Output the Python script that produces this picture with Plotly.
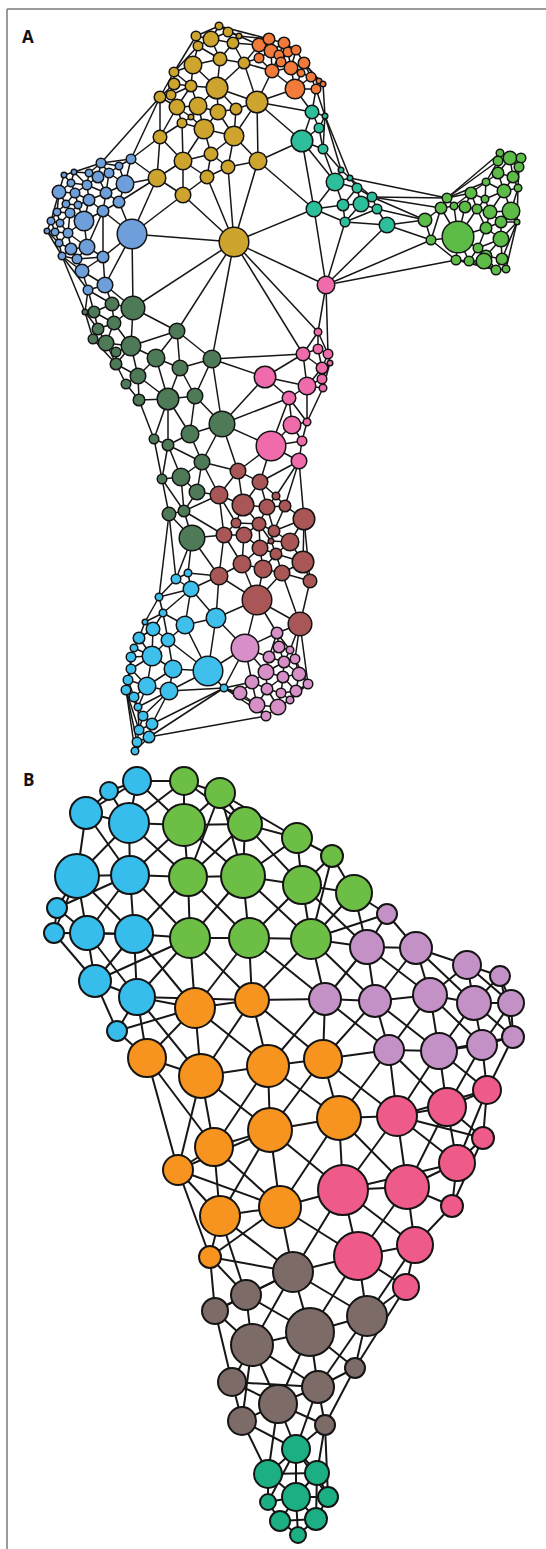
import plotly.graph_objects as go

# ---------------------------------------------------------------
# Node tables: (x, y, radius) in layout units, one list per module
# ---------------------------------------------------------------

# Panel A modules
A_GOLD = [(219, 26, 3), (228, 32, 4), (196, 36, 4), (211, 39, 7), (233, 43, 5), (239, 36, 2),
          (198, 46, 4), (220, 59, 6), (193, 65, 8), (244, 63, 5), (174, 72, 4), (217, 88, 10),
          (191, 86, 5), (174, 84, 5), (160, 97, 5), (171, 95, 4), (177, 107, 7), (198, 106, 8),
          (218, 112, 7), (236, 109, 5), (257, 102, 10), (191, 117, 2), (182, 123, 4), (204, 129, 9),
          (234, 136, 9), (160, 137, 6), (211, 154, 6), (183, 161, 8), (228, 167, 6), (258, 161, 8),
          (207, 177, 6), (157, 178, 8), (183, 195, 7), (234, 242, 14)]
A_ORANGE = [(259, 45, 6), (269, 39, 5), (271, 51, 6), (259, 58, 4), (272, 71, 6), (284, 43, 5),
            (279, 55, 4), (288, 52, 4), (296, 50, 4), (281, 62, 4), (291, 68, 6), (304, 63, 5),
            (301, 73, 3), (311, 77, 4), (319, 81, 2), (323, 84, 2), (316, 89, 4), (295, 89, 9)]
A_TEAL = [(312, 112, 6), (325, 116, 2), (319, 128, 4), (302, 141, 10), (323, 149, 4), (341, 170, 2),
          (335, 182, 8), (350, 178, 2), (357, 188, 4), (372, 197, 4), (343, 205, 5), (361, 204, 7),
          (377, 209, 4), (314, 209, 7), (345, 222, 4), (387, 225, 7)]
A_GREEN = [(500, 153, 3), (510, 158, 6), (521, 158, 4), (519, 167, 4), (498, 161, 4), (513, 177, 5),
           (498, 173, 5), (486, 182, 3), (518, 188, 3), (504, 191, 6), (471, 193, 5), (447, 198, 4),
           (454, 206, 3), (441, 208, 5), (465, 207, 5), (477, 209, 4), (485, 199, 3), (490, 212, 6),
           (511, 211, 8), (517, 222, 2), (501, 222, 5), (486, 228, 5), (425, 220, 6), (431, 240, 4),
           (458, 237, 15), (501, 239, 7), (478, 248, 4), (486, 256, 5), (456, 260, 4), (469, 261, 4),
           (484, 261, 7), (502, 259, 5), (496, 270, 4), (506, 269, 3)]
A_BLUE = [(131, 159, 4), (119, 166, 3), (101, 163, 4), (109, 173, 4), (89, 173, 3), (74, 172, 2),
          (64, 175, 2), (71, 183, 3), (87, 185, 4), (98, 177, 5), (125, 184, 8), (59, 192, 6),
          (75, 193, 4), (106, 193, 5), (89, 200, 5), (119, 202, 5), (66, 204, 3), (78, 205, 3),
          (103, 211, 5), (57, 212, 3), (84, 221, 9), (70, 213, 4), (51, 221, 3), (60, 223, 3),
          (132, 234, 14), (47, 231, 2), (55, 232, 3), (68, 233, 4), (59, 243, 3), (87, 247, 7),
          (71, 249, 5), (77, 259, 4), (62, 256, 3), (103, 257, 5), (82, 271, 6), (88, 290, 4),
          (105, 285, 7)]
A_DKGREEN = [(133, 308, 11), (112, 304, 6), (94, 312, 5), (85, 312, 2), (114, 323, 6), (98, 329, 5),
             (93, 339, 4), (106, 343, 7), (131, 346, 9), (116, 352, 4), (116, 364, 5), (156, 358, 8),
             (177, 331, 7), (180, 368, 7), (212, 359, 8), (138, 376, 7), (126, 384, 4), (168, 399, 10),
             (195, 396, 7), (139, 400, 5), (222, 424, 12), (190, 434, 8), (154, 439, 4), (168, 445, 5),
             (202, 462, 7), (181, 477, 8), (162, 479, 4), (197, 492, 7), (169, 514, 6), (184, 511, 5),
             (192, 538, 12)]
A_PINK = [(326, 285, 8), (318, 332, 3), (303, 354, 6), (318, 349, 4), (328, 354, 4), (330, 363, 2),
          (322, 368, 5), (322, 379, 4), (323, 388, 3), (307, 386, 8), (289, 398, 6), (265, 377, 10),
          (292, 425, 8), (307, 422, 3), (302, 441, 4), (299, 461, 7), (271, 446, 14)]
A_BROWN = [(238, 471, 7), (260, 482, 7), (219, 495, 8), (243, 505, 10), (267, 507, 7), (276, 496, 3),
           (285, 506, 5), (304, 519, 10), (236, 523, 4), (259, 524, 6), (274, 531, 5), (224, 535, 7),
           (244, 535, 7), (260, 548, 7), (276, 554, 5), (290, 542, 8), (271, 541, 2), (303, 562, 10),
           (242, 564, 8), (263, 569, 8), (282, 573, 7), (310, 581, 6), (219, 576, 8), (257, 600, 14),
           (300, 624, 11)]
A_SKY = [(188, 573, 3), (176, 579, 4), (191, 589, 7), (159, 597, 3), (163, 613, 3), (185, 625, 8),
         (216, 618, 9), (145, 622, 2), (153, 629, 6), (168, 640, 6), (139, 638, 5), (134, 648, 3),
         (152, 656, 9), (131, 657, 4), (173, 669, 8), (208, 671, 14), (131, 669, 4), (128, 680, 4),
         (147, 686, 8), (169, 691, 8), (126, 690, 4), (134, 697, 4), (224, 688, 3), (138, 707, 3),
         (143, 716, 4), (152, 724, 5), (139, 730, 4), (149, 737, 5), (137, 742, 4), (135, 751, 3)]
A_LILAC = [(245, 648, 13), (277, 633, 5), (279, 647, 5), (290, 650, 3), (269, 657, 5), (284, 662, 5),
           (295, 659, 4), (266, 672, 7), (283, 677, 5), (299, 674, 6), (252, 682, 6), (267, 689, 5),
           (281, 693, 4), (296, 691, 5), (308, 684, 4), (240, 693, 6), (257, 705, 7), (278, 707, 7),
           (290, 700, 3), (266, 716, 4)]

# Panel B modules
B_SKY = [(137, 781, 14), (109, 791, 9), (86, 813, 16), (129, 823, 20), (77, 876, 22), (130, 875, 19),
         (57, 908, 10), (54, 933, 10), (87, 933, 17), (134, 934, 19), (95, 981, 16), (137, 997, 18),
         (117, 1031, 10)]
B_GREEN = [(184, 781, 14), (220, 793, 15), (184, 825, 21), (245, 824, 17), (188, 877, 19),
           (243, 876, 22), (190, 938, 20), (249, 938, 20), (297, 838, 15), (332, 856, 11),
           (302, 885, 19), (354, 893, 18), (311, 939, 20)]
B_LILAC = [(387, 914, 10), (367, 947, 17), (416, 948, 16), (467, 965, 14), (500, 976, 10),
           (325, 999, 16), (375, 1001, 16), (430, 995, 17), (474, 1003, 17), (511, 1003, 13),
           (389, 1050, 15), (439, 1051, 18), (482, 1045, 15), (513, 1037, 11)]
B_ORANGE = [(195, 1008, 20), (252, 1000, 17), (147, 1058, 19), (201, 1076, 22), (268, 1066, 21),
            (323, 1059, 19), (214, 1147, 19), (270, 1130, 22), (339, 1118, 22), (178, 1170, 15),
            (220, 1216, 20), (280, 1207, 21), (210, 1257, 11)]
B_PINK = [(397, 1116, 20), (447, 1107, 19), (487, 1090, 14), (483, 1138, 11), (457, 1163, 18),
          (343, 1190, 25), (407, 1187, 22), (452, 1206, 11), (358, 1256, 24), (415, 1245, 18),
          (406, 1287, 13)]
B_BROWN = [(293, 1272, 20), (246, 1295, 15), (215, 1311, 13), (367, 1316, 20), (310, 1332, 24),
           (252, 1345, 21), (355, 1368, 10), (232, 1382, 14), (318, 1387, 16), (278, 1404, 19),
           (242, 1421, 14), (325, 1425, 10)]
B_TEAL = [(296, 1449, 14), (268, 1474, 14), (317, 1473, 12), (296, 1497, 14), (328, 1497, 10),
          (268, 1502, 8), (280, 1521, 10), (316, 1519, 11), (298, 1535, 8)]

PANEL_A = [(A_GOLD, "#CDA42D"), (A_ORANGE, "#F27B3B"), (A_TEAL, "#2DBE9C"), (A_GREEN, "#5DBB47"),
           (A_BLUE, "#6E9FDA"), (A_DKGREEN, "#4E7A58"), (A_PINK, "#EF6BAB"), (A_BROWN, "#A95657"),
           (A_SKY, "#3EBFEC"), (A_LILAC, "#D68FC7")]
PANEL_B = [(B_SKY, "#36BDEC"), (B_GREEN, "#6CBE45"), (B_LILAC, "#C391C6"), (B_ORANGE, "#F6941F"),
           (B_PINK, "#EE5B88"), (B_BROWN, "#7D6B68"), (B_TEAL, "#1DAF84")]


# ---------------------------------------------------------------
# Mesh edges: Delaunay triangulation (Bowyer-Watson) of node centres
# ---------------------------------------------------------------
def circum(ax, ay, bx, by, cx, cy):
    d = 2 * (ax * (by - cy) + bx * (cy - ay) + cx * (ay - by))
    if abs(d) < 1e-12:
        return (0.0, 0.0, float("inf"))
    a2, b2, c2 = ax * ax + ay * ay, bx * bx + by * by, cx * cx + cy * cy
    ux = (a2 * (by - cy) + b2 * (cy - ay) + c2 * (ay - by)) / d
    uy = (a2 * (cx - bx) + b2 * (ax - cx) + c2 * (bx - ax)) / d
    return (ux, uy, (ax - ux) ** 2 + (ay - uy) ** 2)


def triangulate(pts):
    n = len(pts)
    xs = [p[0] for p in pts]
    ys = [p[1] for p in pts]
    mx, my = (min(xs) + max(xs)) / 2, (min(ys) + max(ys)) / 2
    d = max(max(xs) - min(xs), max(ys) - min(ys)) * 20
    allp = list(pts) + [(mx - d, my - d), (mx + d, my - d), (mx, my + d)]
    tris = {}

    def add(a, b, c):
        tris[(a, b, c)] = circum(*allp[a], *allp[b], *allp[c])

    add(n, n + 1, n + 2)
    for i in range(n):
        px, py = allp[i]
        bad = [t for t, (ux, uy, r2) in tris.items() if (px - ux) ** 2 + (py - uy) ** 2 < r2]
        cnt = {}
        for t in bad:
            for e in ((t[0], t[1]), (t[1], t[2]), (t[2], t[0])):
                k = (min(e), max(e))
                cnt[k] = cnt.get(k, 0) + 1
            del tris[t]
        for (a, b), c in cnt.items():
            if c == 1:
                add(a, b, i)
    return [(t, v[2] ** 0.5) for t, v in tris.items() if max(t) < n]


def dist(p, q):
    return ((p[0] - q[0]) ** 2 + (p[1] - q[1]) ** 2) ** 0.5


def mesh_edges(pts, r_max, max_len, cross_ratio=None):
    tris = [t for t, r in triangulate(pts) if r <= r_max]
    opp = {}
    for a, b, c in tris:
        for (u, v), w in (((a, b), c), ((b, c), a), ((c, a), b)):
            opp.setdefault((min(u, v), max(u, v)), []).append(w)
    edges = set(opp.keys())
    if cross_ratio:
        for (u, v), ws in opp.items():
            if len(ws) == 2:
                c, d = ws
                if dist(pts[c], pts[d]) < cross_ratio * dist(pts[u], pts[v]):
                    edges.add((min(c, d), max(c, d)))
    return {e for e in edges if dist(pts[e[0]], pts[e[1]]) <= max_len}


def edge_trace(groups, r_max, max_len, width, cross_ratio=None):
    pts = [(x, y) for g, _ in groups for (x, y, r) in g]
    ex, ey = [], []
    for u, v in sorted(mesh_edges(pts, r_max, max_len, cross_ratio)):
        ex += [pts[u][0], pts[v][0], None]
        ey += [pts[u][1], pts[v][1], None]
    return go.Scatter(x=ex, y=ey, mode="lines", hoverinfo="skip", showlegend=False,
                      line=dict(color="#161616", width=width))


def node_traces(groups, outline, grow):
    out = []
    for g, color in groups:
        out.append(go.Scatter(
            x=[p[0] for p in g], y=[p[1] for p in g], mode="markers", showlegend=False,
            hoverinfo="skip",
            marker=dict(size=[2 * p[2] + grow for p in g], color=color,
                        line=dict(color="#141414", width=outline), opacity=1)))
    return out


fig = go.Figure()
fig.add_trace(edge_trace(PANEL_A, 85, 145, 1.5))
for t in node_traces(PANEL_A, 1.5, 1.6):
    fig.add_trace(t)
fig.add_trace(edge_trace(PANEL_B, 80, 200, 2.0, cross_ratio=1.7))
for t in node_traces(PANEL_B, 2.0, 0):
    fig.add_trace(t)

# frame lines and panel letters
fig.add_shape(type="line", x0=7, x1=546, y0=9, y1=9, line=dict(color="#7a7a7a", width=1.5))
fig.add_shape(type="line", x0=7, x1=7, y0=9, y1=1549, line=dict(color="#7a7a7a", width=1.5))
for letter, (lx, ly) in (("A", (28, 36)), ("B", (28, 779))):
    fig.add_annotation(x=lx, y=ly, text="<b>%s</b>" % letter, showarrow=False,
                       font=dict(family="Open Sans, Arial", size=17, color="#111111"))

fig.update_layout(
    width=546, height=1549, margin=dict(l=0, r=0, t=0, b=0),
    paper_bgcolor="white", plot_bgcolor="white",
    xaxis=dict(range=[0, 546], visible=False, fixedrange=True),
    yaxis=dict(range=[1549, 0], visible=False, fixedrange=True),
)
fig.write_html("out.html")
